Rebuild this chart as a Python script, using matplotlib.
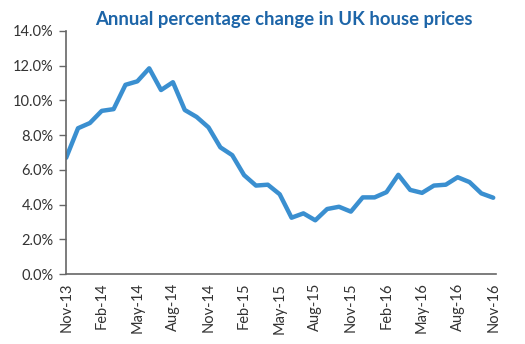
import matplotlib.pyplot as plt
from matplotlib.ticker import FuncFormatter

# monthly annual % change, Nov-13 .. Nov-16
months = ["Nov-13", "Dec-13", "Jan-14", "Feb-14", "Mar-14", "Apr-14", "May-14",
          "Jun-14", "Jul-14", "Aug-14", "Sep-14", "Oct-14", "Nov-14", "Dec-14",
          "Jan-15", "Feb-15", "Mar-15", "Apr-15", "May-15", "Jun-15", "Jul-15",
          "Aug-15", "Sep-15", "Oct-15", "Nov-15", "Dec-15", "Jan-16", "Feb-16",
          "Mar-16", "Apr-16", "May-16", "Jun-16", "Jul-16", "Aug-16", "Sep-16",
          "Oct-16", "Nov-16"]
change = [6.7, 8.4, 8.7, 9.4, 9.5, 10.9, 11.1, 11.85, 10.6, 11.05, 9.45, 9.05,
          8.45, 7.3, 6.85, 5.7, 5.1, 5.15, 4.6, 3.25, 3.5, 3.1, 3.75, 3.88,
          3.6, 4.42, 4.42, 4.72, 5.72, 4.85, 4.68, 5.1, 5.15, 5.58, 5.3,
          4.65, 4.4]
tick_idx = list(range(0, 37, 3))

plt.rcParams['font.family'] = ['Lato', 'DejaVu Sans']

fig = plt.figure(figsize=(5.25, 3.44), dpi=100)
ax = fig.add_axes([0.126, 0.203, 0.818, 0.707])

ax.plot(range(len(change)), change, color="#3a8fd0", linewidth=3.2,
        solid_joinstyle="round", solid_capstyle="round")

ax.set_xlim(0, 36.2)
ax.set_ylim(0, 14)
ax.set_yticks([0, 2, 4, 6, 8, 10, 12, 14])
ax.yaxis.set_major_formatter(FuncFormatter(lambda v, p: f"{v:.1f}%"))
ax.set_xticks(tick_idx)
ax.set_xticklabels([months[i] for i in tick_idx], rotation=90)
ax.tick_params(axis="x", length=0, pad=6, labelsize=10.5, colors="#333333")
ax.tick_params(axis="y", length=5, width=1, color="#666666", pad=4,
               labelsize=10.5, labelcolor="#333333")

for s in ["top", "right"]:
    ax.spines[s].set_visible(False)
for s in ["left", "bottom"]:
    ax.spines[s].set_color("#666666")
    ax.spines[s].set_linewidth(1.2)

fig.text(0.541, 0.942, "Annual percentage change in UK house prices",
         ha="center", va="center", fontsize=13.3, color="#1d65a8",
         fontweight="bold")

fig.savefig("out.png", dpi=100)
